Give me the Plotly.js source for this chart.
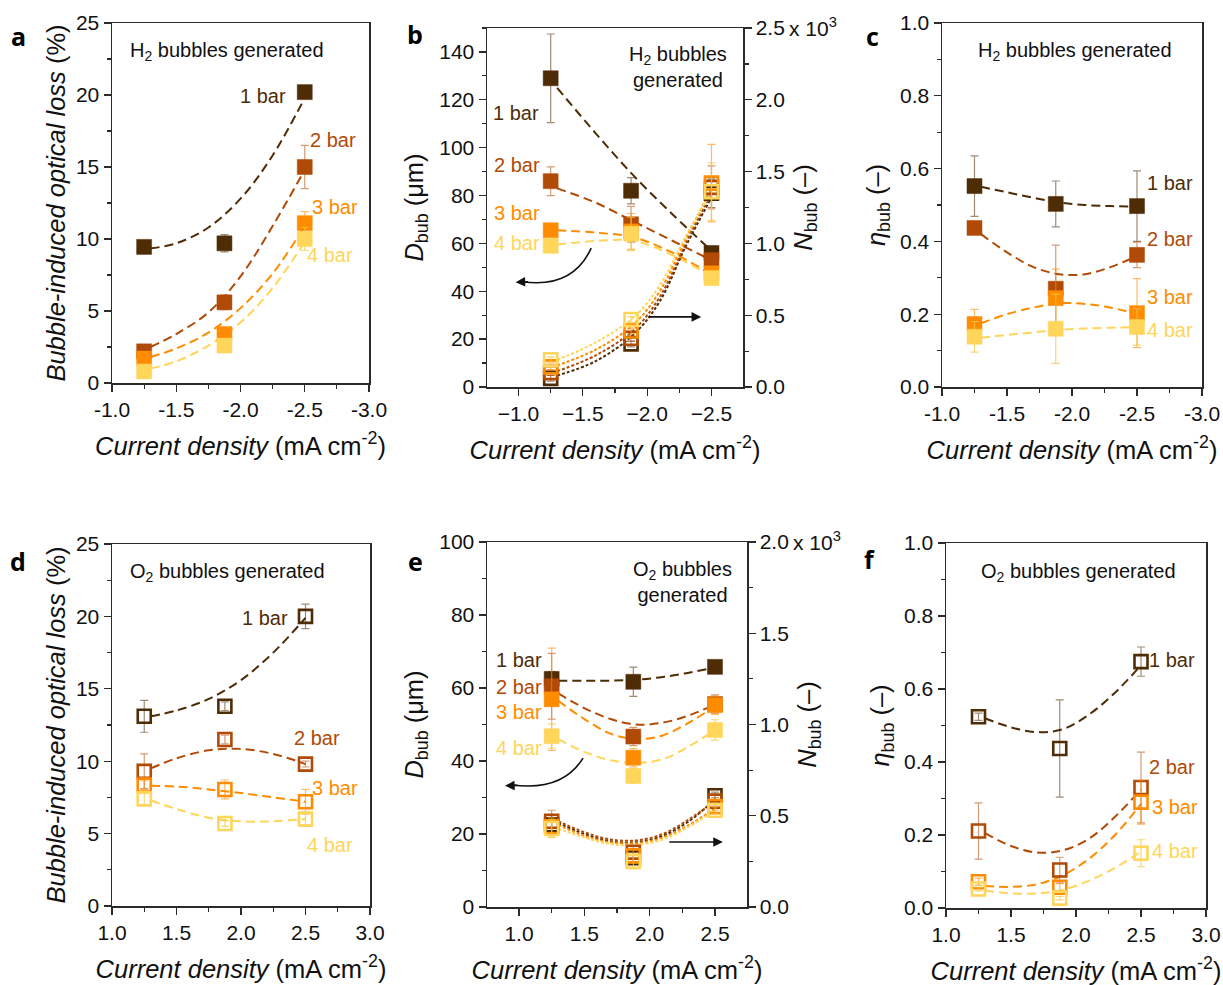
<!DOCTYPE html>
<html><head><meta charset="utf-8">
<script src="https://cdn.plot.ly/plotly-3.0.1.min.js"></script>
<style>html,body{margin:0;padding:0;background:#fff}#chart{width:1223px;height:985px}</style>
</head><body><div id="chart"></div>
<script>
const W = 1223, H = 985;
const PRESSURES = ['1 bar', '2 bar', '3 bar', '4 bar'];
const COLORS = ['#4e2c06', '#b04a06', '#ff8c00', '#ffd55a'];
const ERR_COLORS = ['rgba(78,44,6,0.55)', 'rgba(176,74,6,0.55)', 'rgba(255,140,0,0.6)', 'rgba(245,200,70,0.75)'];

// current densities
const J_H2 = [-1.25, -1.875, -2.5];
const J_O2 = [1.25, 1.875, 2.5];

// tick labels
const TICK_H2_X = [-1, -1.5, -2, -2.5, -3];
const TICKTEXT_H2_X = ['-1.0', '-1.5', '-2.0', '-2.5', '-3.0'];
const TICK_H2B_X = [-1, -1.5, -2, -2.5];
const TICKTEXT_H2B_X = ['\u22121.0', '\u22121.5', '\u22122.0', '\u22122.5'];
const TICK_O2_X = [1, 1.5, 2, 2.5, 3];
const TICKTEXT_O2_X = ['1.0', '1.5', '2.0', '2.5', '3.0'];
const TICK_O2E_X = [1, 1.5, 2, 2.5];
const TICKTEXT_O2E_X = ['1.0', '1.5', '2.0', '2.5'];
const TICK_NB = [0, 0.5, 1, 1.5, 2, 2.5];
const TICKTEXT_NB = ['0.0', '0.5', '1.0', '1.5', '2.0', '2.5'];
const TICK_NE = [0, 0.5, 1, 1.5, 2];
const TICKTEXT_NE = ['0.0', '0.5', '1.0', '1.5', '2.0'];

// (a) H2 optical loss (%)
const A_LOSS = [[9.45, 9.7, 20.2], [2.2, 5.6, 15.0], [1.7, 3.4, 11.1], [0.8, 2.6, 10.0]];
const A_ERR = [[0.2, 0.6, 0.2], [0.3, 0.5, 1.5], [0.3, 0.2, 0.8], [0.2, 0.3, 0.8]];
const A_FIT_X = [-1.3, -1.5, -1.75, -2.0, -2.25, -2.5];
const A_FIT = [[9.35, 9.7, 10.8, 12.8, 15.8, 19.8], [2.5, 3.4, 4.9, 7.4, 10.9, 14.8],
               [1.8, 2.4, 3.5, 5.2, 7.6, 10.9], [1.0, 1.5, 2.6, 4.2, 6.6, 9.8]];

// (b) H2 bubble diameter (um) and number (x10^3)
const B_D = [[129, 82, 56], [86, 68, 53], [65.5, 65, 47.5], [59, 64, 45.5]];
const B_D_ERR = [[18.5, 5.5, 2], [6, 7.5, 2], [2, 7.5, 2], [2, 7, 2]];
const B_D_FIT_X = [-1.3, -1.6, -1.9, -2.2, -2.5];
const B_D_FIT = [[125, 106, 88, 72, 57], [83, 77, 69, 61, 53], [65.5, 64.5, 62.5, 56, 47], [59.5, 61, 61, 55, 46]];
const B_N = [[0.06, 0.30, 1.35], [0.10, 0.34, 1.39], [0.14, 0.39, 1.42], [0.19, 0.47, 1.36]];
const B_N_ERR = [[0.02, 0.02, 0.10], [0.02, 0.02, 0.15], [0.02, 0.02, 0.27], [0.02, 0.02, 0.20]];
const B_N_FIT_X = [-1.3, -1.6, -1.9, -2.1, -2.3, -2.5];
const B_N_FIT = [[0.08, 0.18, 0.37, 0.60, 0.98, 1.32], [0.11, 0.22, 0.40, 0.63, 1.00, 1.35],
                 [0.15, 0.26, 0.44, 0.67, 1.03, 1.38], [0.19, 0.31, 0.49, 0.71, 1.05, 1.36]];

// (c) H2 eta_bub
const C_ETA = [[0.552, 0.503, 0.497], [0.437, 0.27, 0.363], [0.173, 0.244, 0.203], [0.138, 0.16, 0.165]];
const C_ERR = [[0.083, 0.063, 0.097], [0.01, 0.12, 0.035], [0.04, 0.08, 0.095], [0.042, 0.095, 0.05]];
const C_FIT_X = [-1.3, -1.5, -1.7, -1.9, -2.1, -2.3, -2.5];
const C_FIT = [[0.55, 0.535, 0.52, 0.507, 0.5, 0.497, 0.495], [0.42, 0.37, 0.33, 0.31, 0.31, 0.33, 0.36],
               [0.175, 0.2, 0.218, 0.23, 0.228, 0.218, 0.2], [0.135, 0.143, 0.15, 0.157, 0.161, 0.163, 0.165]];

// (d) O2 optical loss (%)
const D_LOSS = [[13.1, 13.8, 20.0], [9.3, 11.5, 9.8], [8.35, 8.05, 7.2], [7.4, 5.7, 6.0]];
const D_ERR = [[1.1, 0.3, 0.85], [1.2, 0.3, 0.2], [0.3, 0.65, 0.85], [0.4, 0.2, 0.5]];
const D_FIT_X = [1.3, 1.5, 1.75, 2.0, 2.25, 2.5];
const D_FIT = [[13.1, 13.5, 14.3, 15.6, 17.5, 19.9], [9.5, 10.2, 10.75, 10.85, 10.5, 9.8],
               [8.3, 8.25, 8.05, 7.8, 7.5, 7.2], [7.3, 6.7, 6.1, 5.85, 5.85, 6.0]];

// (e) O2 bubble diameter (um) and number (x10^3)
const E_D = [[62.5, 61.7, 65.8], [60.5, 46.7, 55.6], [56.9, 40.9, 55.3], [46.8, 35.9, 48.5]];
const E_D_ERR = [[2, 4, 0.5], [9, 2.5, 2.5], [14, 2.5, 2.5], [3.3, 2, 2.8]];
const E_FIT_X = [1.3, 1.5, 1.7, 1.9, 2.1, 2.3, 2.5];
const E_D_FIT = [[62, 62, 62, 62.3, 63, 64.2, 65.6], [58.5, 54.5, 51.5, 50, 50.5, 52.5, 55.5],
                 [56.5, 51.5, 47.5, 46, 47, 50.5, 55], [46, 42.5, 40.2, 39.5, 40.5, 44, 48.5]];
const E_N = [[0.45, 0.27, 0.61], [0.47, 0.30, 0.58], [0.44, 0.28, 0.55], [0.43, 0.25, 0.53]];
const E_N_ERR = [[0.05, 0.03, 0.02], [0.06, 0.03, 0.02], [0.05, 0.04, 0.02], [0.05, 0.04, 0.02]];
const E_N_FIT = [[0.46, 0.40, 0.36, 0.355, 0.39, 0.47, 0.59], [0.47, 0.41, 0.37, 0.365, 0.40, 0.48, 0.58],
                 [0.45, 0.39, 0.355, 0.35, 0.38, 0.45, 0.54], [0.43, 0.38, 0.345, 0.34, 0.37, 0.44, 0.53]];

// (f) O2 eta_bub
const F_ETA = [[0.524, 0.437, 0.675], [0.211, 0.104, 0.33], [0.072, 0.057, 0.29], [0.052, 0.027, 0.15]];
const F_ERR = [[0.01, 0.133, 0.04], [0.077, 0.035, 0.097], [0.01, 0.01, 0.06], [0.005, 0.005, 0.037]];
const F_FIT_X = [1.3, 1.5, 1.7, 1.9, 2.1, 2.3, 2.5];
const F_FIT = [[0.52, 0.495, 0.482, 0.49, 0.53, 0.59, 0.665], [0.205, 0.17, 0.152, 0.158, 0.19, 0.25, 0.325],
               [0.06, 0.058, 0.065, 0.09, 0.135, 0.2, 0.285], [0.048, 0.04, 0.04, 0.05, 0.075, 0.11, 0.155]];

// label positions (data coords of each panel)
const A_LAB = [[-2.175, 19.9], [-2.72, 16.9], [-2.735, 12.2], [-2.70, 8.9]];
const B_LAB = [[-0.98, 114.5], [-0.99, 92.8], [-0.99, 72.7], [-0.99, 60.2]];
const C_LAB = [[-2.75, 0.56], [-2.75, 0.406], [-2.755, 0.247], [-2.755, 0.157]];
const D_LAB = [[2.186, 19.9], [2.59, 11.6], [2.73, 8.15], [2.69, 4.2]];
const E_LAB = [[1.0, 67.7], [1.0, 60.4], [1.0, 53.5], [1.0, 43.5]];
const F_LAB = [[2.74, 0.68], [2.74, 0.386], [2.76, 0.277], [2.76, 0.156]];

const FONT = '"Liberation Sans", Arial, sans-serif';
const AX = '#2b2b2b';
const TF = 21, TITLE_F = 25.5, LAB_F = 20;
const px2x = p => p / W;
const py2y = p => 1 - p / H;

function xAxis(x0, x1, anchor, range, tv, tt, minorDt, title, standoff) {
  return {
    domain: [px2x(x0), px2x(x1)], anchor: anchor, range: range, autorange: false,
    tickmode: 'array', tickvals: tv, ticktext: tt,
    ticks: 'outside', ticklen: 7, tickwidth: 1.3, tickcolor: AX,
    minor: {tickmode: 'linear', tick0: 0, dtick: minorDt, ticks: 'outside', ticklen: 4, tickwidth: 1.2, tickcolor: AX},
    showline: true, mirror: true, linecolor: AX, linewidth: 1.5,
    showgrid: false, zeroline: false,
    tickfont: {family: FONT, size: TF, color: '#111'},
    title: {text: title, font: {family: FONT, size: TITLE_F, color: '#111'}, standoff: standoff}
  };
}
function yAxis(y0, y1, anchor, range, tv, tt, minorDt, title, standoff, extra) {
  const ax = {
    domain: [py2y(y1), py2y(y0)], anchor: anchor, range: range, autorange: false,
    tickmode: 'array', tickvals: tv, ticktext: tt,
    ticks: 'outside', ticklen: 7, tickwidth: 1.3, tickcolor: AX,
    minor: {tickmode: 'linear', tick0: 0, dtick: minorDt, ticks: 'outside', ticklen: 4, tickwidth: 1.2, tickcolor: AX},
    showline: true, mirror: true, linecolor: AX, linewidth: 1.5,
    showgrid: false, zeroline: false,
    tickfont: {family: FONT, size: TF, color: '#111'},
    title: {text: title, font: {family: FONT, size: TITLE_F, color: '#111'}, standoff: standoff}
  };
  return Object.assign(ax, extra || {});
}
function mirrorX(base, overlayName, anchor) {
  return {overlaying: overlayName, anchor: anchor, side: 'top', range: base.range, autorange: false,
    tickmode: 'array', tickvals: base.tickvals, showticklabels: false,
    ticks: 'inside', ticklen: 7, tickwidth: 1.3, tickcolor: AX,
    minor: Object.assign({}, base.minor, {ticks: 'inside'}),
    showline: false, showgrid: false, zeroline: false};
}
function mirrorY(base, overlayName, anchor) {
  return {overlaying: overlayName, anchor: anchor, side: 'right', range: base.range, autorange: false,
    tickmode: 'array', tickvals: base.tickvals, showticklabels: false,
    ticks: 'inside', ticklen: 7, tickwidth: 1.3, tickcolor: AX,
    minor: Object.assign({}, base.minor, {ticks: 'inside'}),
    showline: false, showgrid: false, zeroline: false};
}

const range = (a, b, s) => { const r = []; for (let v = a; v <= b + 1e-9; v += s) r.push(+v.toFixed(3)); return r; };
const XTITLE = '<i>Current density</i> (mA cm<sup>-2</sup>)';

const layout = {
  width: W, height: H, margin: {l: 0, r: 0, t: 0, b: 0},
  paper_bgcolor: '#fff', plot_bgcolor: 'rgba(0,0,0,0)', showlegend: false,
  font: {family: FONT, size: 19, color: '#111'},
  annotations: [], shapes: []
};
layout.xaxis  = xAxis(112, 369, 'y',  [-1, -3], TICK_H2_X, TICKTEXT_H2_X, 0.25, XTITLE, 17);
layout.yaxis  = yAxis(23, 383, 'x',  [0, 25], range(0, 25, 5), range(0, 25, 5).map(String), 2.5, '<i>Bubble-induced optical loss</i> (%)', 3);
layout.xaxis2 = xAxis(487, 743, 'y2', [-0.755, -2.745], TICK_H2B_X, TICKTEXT_H2B_X, 0.25, XTITLE, 17);
layout.yaxis2 = yAxis(28, 387, 'x2', [0, 150], range(0, 140, 20), range(0, 140, 20).map(String), 10, '<i>D</i><sub>bub</sub> (\u03bcm)', 8);
layout.xaxis3 = xAxis(942, 1202, 'y3', [-1, -3], TICK_H2_X, TICKTEXT_H2_X, 0.25, XTITLE, 17);
layout.yaxis3 = yAxis(23, 387, 'x3', [0, 1], range(0, 1, 0.2), range(0, 1, 0.2).map(v => v.toFixed(1)), 0.1, '<i>\u03b7</i><sub>bub</sub> (\u2013)', 7);
layout.xaxis4 = xAxis(112, 370, 'y4', [1, 3], TICK_O2_X, TICKTEXT_O2_X, 0.25, XTITLE, 17);
layout.yaxis4 = yAxis(544, 906, 'x4', [0, 25], range(0, 25, 5), range(0, 25, 5).map(String), 2.5, '<i>Bubble-induced optical loss</i> (%)', 3);
layout.xaxis5 = xAxis(487, 747, 'y5', [0.755, 2.745], TICK_O2E_X, TICKTEXT_O2E_X, 0.25, XTITLE, 17);
layout.yaxis5 = yAxis(542, 907, 'x5', [0, 100], range(0, 100, 20), range(0, 100, 20).map(String), 10, '<i>D</i><sub>bub</sub> (\u03bcm)', 8);
layout.xaxis6 = xAxis(946, 1206, 'y6', [1, 3], TICK_O2_X, TICKTEXT_O2_X, 0.25, XTITLE, 17);
layout.yaxis6 = yAxis(543, 908, 'x6', [0, 1], range(0, 1, 0.2), range(0, 1, 0.2).map(v => v.toFixed(1)), 0.1, '<i>\u03b7</i><sub>bub</sub> (\u2013)', 7);
// right (N_bub) axes
layout.yaxis7 = yAxis(28, 387, 'x2', [0, 2.5], TICK_NB, TICKTEXT_NB, 0.25, '<i>N</i><sub>bub</sub> (\u2013)', 10,
  {overlaying: 'y2', side: 'right', mirror: false});
layout.yaxis8 = yAxis(542, 907, 'x5', [0, 2], TICK_NE, TICKTEXT_NE, 0.25, '<i>N</i><sub>bub</sub> (\u2013)', 10,
  {overlaying: 'y5', side: 'right', mirror: false});
delete layout.yaxis7.domain; delete layout.yaxis8.domain;
// mirror axes with inward ticks
layout.xaxis7  = mirrorX(layout.xaxis,  'x',  'y');
layout.xaxis8  = mirrorX(layout.xaxis2, 'x2', 'y2');
layout.xaxis9  = mirrorX(layout.xaxis3, 'x3', 'y3');
layout.xaxis10 = mirrorX(layout.xaxis4, 'x4', 'y4');
layout.xaxis11 = mirrorX(layout.xaxis5, 'x5', 'y5');
layout.xaxis12 = mirrorX(layout.xaxis6, 'x6', 'y6');
layout.yaxis9  = mirrorY(layout.yaxis,  'y',  'x');
layout.yaxis10 = mirrorY(layout.yaxis3, 'y3', 'x3');
layout.yaxis11 = mirrorY(layout.yaxis4, 'y4', 'x4');
layout.yaxis12 = mirrorY(layout.yaxis6, 'y6', 'x6');

const traces = [];
function addSeries(xa, ya, xs, ys, errs, fitX, fitY, open, dashPat) {
  for (let i = 0; i < 4; i++) {
    traces.push({type: 'scatter', mode: 'lines', x: fitX, y: fitY[i], xaxis: xa, yaxis: ya,
      line: {color: COLORS[i], width: 2, dash: dashPat, shape: 'spline', smoothing: 1}, hoverinfo: 'skip'});
  }
  for (let i = 0; i < 4; i++) {
    traces.push({type: 'scatter', mode: 'markers', x: xs, y: ys[i], xaxis: xa, yaxis: ya, name: PRESSURES[i],
      marker: open ? {symbol: 'square-open', size: 13, color: COLORS[i], line: {color: COLORS[i], width: 2.6}}
                   : {symbol: 'square', size: 15, color: COLORS[i], line: {color: COLORS[i], width: 0.5}},
      error_y: {type: 'data', array: errs[i], visible: true, color: ERR_COLORS[i], thickness: 1.2, width: 4}});
  }
}
addSeries('x',  'y',  J_H2, A_LOSS, A_ERR, A_FIT_X, A_FIT, false, '9px,5px');
addSeries('x2', 'y2', J_H2, B_D, B_D_ERR, B_D_FIT_X, B_D_FIT, false, '9px,5px');
addSeries('x2', 'y7', J_H2, B_N, B_N_ERR, B_N_FIT_X, B_N_FIT, true, '3px,2px');
addSeries('x3', 'y3', J_H2, C_ETA, C_ERR, C_FIT_X, C_FIT, false, '9px,5px');
addSeries('x4', 'y4', J_O2, D_LOSS, D_ERR, D_FIT_X, D_FIT, true, '9px,5px');
addSeries('x5', 'y5', J_O2, E_D, E_D_ERR, E_FIT_X, E_D_FIT, false, '9px,5px');
addSeries('x5', 'y8', J_O2, E_N, E_N_ERR, E_FIT_X, E_N_FIT, true, '3px,2px');
addSeries('x6', 'y6', J_O2, F_ETA, F_ERR, F_FIT_X, F_FIT, true, '9px,5px');

// series labels
function addLabels(xa, ya, pos) {
  pos.forEach((p, i) => layout.annotations.push({xref: xa, yref: ya, x: p[0], y: p[1], text: PRESSURES[i],
    showarrow: false, font: {family: FONT, size: LAB_F, color: COLORS[i]}, xanchor: 'center', yanchor: 'middle'}));
}
addLabels('x', 'y', A_LAB); addLabels('x2', 'y2', B_LAB); addLabels('x3', 'y3', C_LAB);
addLabels('x4', 'y4', D_LAB); addLabels('x5', 'y5', E_LAB); addLabels('x6', 'y6', F_LAB);

function paperText(px, py, text, font, xanchor) {
  layout.annotations.push({xref: 'paper', yref: 'paper', x: px2x(px), y: py2y(py), text: text, showarrow: false,
    font: font, xanchor: xanchor || 'center', yanchor: 'middle', align: 'center'});
}
const HF = {family: FONT, size: LAB_F, color: '#111'};
paperText(227, 52, 'H<sub>2</sub> bubbles generated', HF);
paperText(678, 67, 'H<sub>2</sub> bubbles<br>generated', HF);
paperText(1075, 52, 'H<sub>2</sub> bubbles generated', HF);
paperText(227, 572, 'O<sub>2</sub> bubbles generated', HF);
paperText(682, 582, 'O<sub>2</sub> bubbles<br>generated', HF);
paperText(1078, 572, 'O<sub>2</sub> bubbles generated', HF);
paperText(787, 27, 'x 10<sup>3</sup>', {family: FONT, size: TF, color: '#111'}, 'left');
paperText(791, 541, 'x 10<sup>3</sup>', {family: FONT, size: TF, color: '#111'}, 'left');
const LF = {family: 'Open Sans, DejaVu Sans, sans-serif', size: 25, color: '#000', weight: 700};
paperText(18, 36, '<b>a</b>', LF); paperText(415, 34, '<b>b</b>', LF); paperText(872, 36, '<b>c</b>', LF);
paperText(18, 561, '<b>d</b>', LF); paperText(415, 561, '<b>e</b>', LF); paperText(870, 559, '<b>f</b>', LF);

// arrows (panel b and e)
layout.shapes.push({type: 'path', xref: 'x2', yref: 'y2', path: 'M -1.565,58 Q -1.42,41 -1.03,44', line: {color: '#111', width: 1.6}});
layout.annotations.push({xref: 'x2', yref: 'y2', x: -0.977, y: 43.8, ax: 14, ay: -0.5, text: '', showarrow: true,
  arrowhead: 2, arrowsize: 1.2, arrowwidth: 1.6, arrowcolor: '#111'});
layout.annotations.push({xref: 'x2', yref: 'y2', x: -2.42, y: 29.3, ax: -54, ay: 0, text: '', showarrow: true,
  arrowhead: 2, arrowsize: 1.2, arrowwidth: 1.6, arrowcolor: '#111'});
layout.shapes.push({type: 'path', xref: 'x5', yref: 'y5', path: 'M 1.49,40.8 Q 1.33,31.5 0.94,33.5', line: {color: '#111', width: 1.6}});
layout.annotations.push({xref: 'x5', yref: 'y5', x: 0.893, y: 33.2, ax: 14, ay: -0.5, text: '', showarrow: true,
  arrowhead: 2, arrowsize: 1.2, arrowwidth: 1.6, arrowcolor: '#111'});
layout.annotations.push({xref: 'x5', yref: 'y5', x: 2.56, y: 17.8, ax: -55, ay: 0, text: '', showarrow: true,
  arrowhead: 2, arrowsize: 1.2, arrowwidth: 1.6, arrowcolor: '#111'});

Plotly.newPlot('chart', traces, layout, {displayModeBar: false, staticPlot: true});
</script></body></html>
